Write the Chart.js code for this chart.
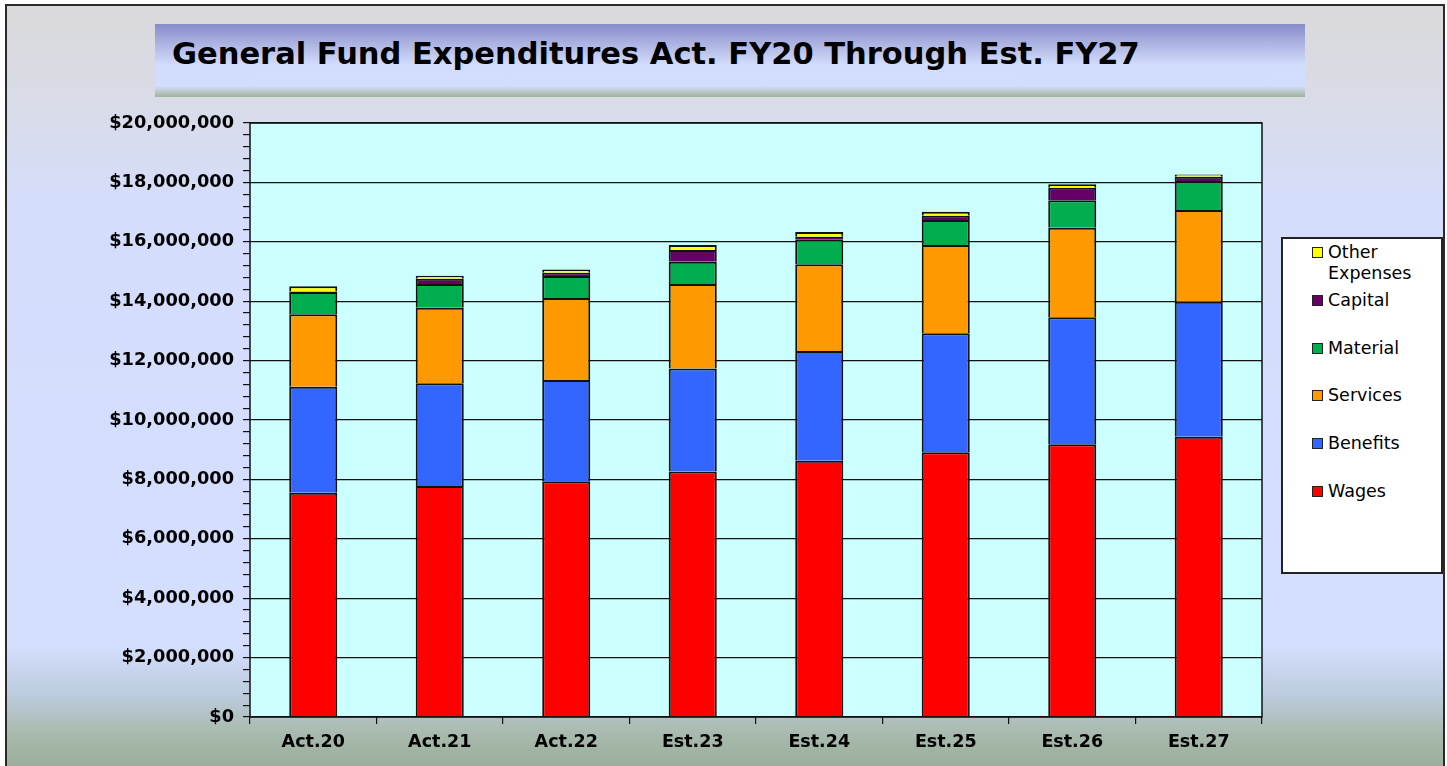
<!DOCTYPE html>
<html>
<head>
<meta charset="utf-8">
<script src="https://cdn.jsdelivr.net/npm/chart.js@4.4.1/dist/chart.umd.min.js"></script>
<style>
    html, body { margin: 0; padding: 0; background: #fff; overflow: hidden; }
    #frame {
        position: absolute; left: 5px; top: 4px; width: 1436px; height: 800px;
        border: 2px solid #2a2a2a;
        background: linear-gradient(to bottom, #dadadb 0px, #d9dbe6 90px, #d4ddfc 200px, #d4defe 640px, #bccbdc 690px, #a7b9ab 730px, #98ad98 766px);
    }
    #title {
        position: absolute; left: 155px; top: 24px; width: 1150px; height: 73px;
        background: linear-gradient(to bottom, #878bc8 0%, #aab1e0 25%, #d1dbfb 55%, #d3ddfd 85%, #b9c7c4 93%, #9fb39f 100%);
        font-family: "DejaVu Sans", Verdana, sans-serif; font-weight: bold; font-size: 30.5px;
        line-height: 59px; padding-left: 17px; box-sizing: border-box; color: #000;
    }
    #chart { position: absolute; left: 0; top: 0; }
    #legend {
        position: absolute; left: 1281px; top: 237px; width: 162px; height: 337px;
        background: #fff; border: 2px solid #222; box-sizing: border-box;
        font-family: "DejaVu Sans", Verdana, sans-serif; font-size: 17.5px; color: #000;
    }
    .item { position: absolute; left: 29px; }
    .sw { position: absolute; left: 0; width: 9px; height: 9px; border: 1.5px solid #222; }
    .lbl { position: absolute; left: 16px; line-height: 21px; white-space: nowrap; }
</style>
</head>
<body>
<div id="frame"></div>
<div id="title">General Fund Expenditures Act. FY20 Through Est. FY27</div>
<canvas id="chart" width="1447" height="766"></canvas>
<div id="legend"></div>
<script>
// ============================================
// Data
// ============================================

const categories = ["Act.20", "Act.21", "Act.22", "Est.23", "Est.24", "Est.25", "Est.26", "Est.27"];

const wages    = [7550000, 7780000, 7940000, 8270000, 8630000, 8910000, 9180000, 9440000];
const benefits = [3570000, 3460000, 3410000, 3460000, 3690000, 4010000, 4280000, 4540000];
const services = [2440000, 2540000, 2760000, 2850000, 2920000, 2970000, 3010000, 3090000];
const material = [750000, 800000, 740000, 750000, 850000, 840000, 930000, 980000];
const capital  = [20000, 180000, 110000, 390000, 80000, 150000, 420000, 140000];
const other    = [170000, 100000, 110000, 170000, 160000, 130000, 120000, 80000];

const seriesNames = ["Wages", "Benefits", "Services", "Material", "Capital", "Other Expenses"];
const seriesColors = ["#ff0000", "#3366ff", "#ff9900", "#00ae50", "#660066", "#ffff00"];

const Y_MAX = 20000000;
const Y_MAJOR = 2000000;
const Y_MINOR = 400000;

// ============================================
// Plugins
// ============================================

const FONT = "'DejaVu Sans', Verdana, sans-serif";

const plotBox = {
    id: "plotBox",
    beforeDraw(chart) {
        const { ctx, chartArea: a } = chart;
        ctx.save();
        ctx.fillStyle = "#ccffff";
        ctx.fillRect(a.left, a.top, a.right - a.left, a.bottom - a.top);
        ctx.restore();
    },
    afterDraw(chart) {
        const { ctx, chartArea: a } = chart;
        ctx.save();
        ctx.strokeStyle = "#111";
        ctx.lineWidth = 1.5;
        ctx.strokeRect(a.left, a.top, a.right - a.left, a.bottom - a.top);
        ctx.restore();
    },
};

// ============================================
// Chart
// ============================================

const allSeries = [wages, benefits, services, material, capital, other];

// only top/left/right borders: the segment below supplies the dividing line
const datasets = allSeries.map((values, i) => ({
    label: seriesNames[i],
    data: values,
    backgroundColor: seriesColors[i],
    borderColor: "#111",
    borderWidth: 2,
    borderSkipped: "bottom",
    barPercentage: 0.38,
    categoryPercentage: 1,
}));

const chart = new Chart(document.getElementById("chart").getContext("2d"), {
    type: "bar",
    data: { labels: categories, datasets: datasets },
    plugins: [plotBox],
    options: {
        responsive: false,
        animation: false,
        layout: { padding: { top: 123, right: 185, left: 0, bottom: 0 } },
        plugins: { legend: { display: false }, tooltip: { enabled: false } },
        scales: {
            x: {
                stacked: true,
                afterFit(scale) { scale.height = 49; },
                border: { display: false },
                grid: { offset: true, drawOnChartArea: false, drawTicks: true, tickLength: 7, color: "#111", lineWidth: 1.2 },
                ticks: {
                    padding: 8,
                    color: "#000",
                    font: { family: FONT, size: 17.5, weight: "bold" },
                },
            },
            y: {
                stacked: true,
                min: 0,
                max: Y_MAX,
                afterFit(scale) { scale.width = 250; },
                border: { display: false },
                grid: {
                    color: (c) => (c.tick && c.tick.value % Y_MAJOR === 0 ? "#111" : "rgba(0,0,0,0)"),
                    tickColor: "#111",
                    lineWidth: 1.2,
                    tickLength: 7,
                },
                ticks: {
                    stepSize: Y_MINOR,
                    autoSkip: false,
                    padding: 9,
                    color: "#000",
                    font: { family: FONT, size: 17.8, weight: "bold" },
                    callback: (v) => (v % Y_MAJOR === 0 ? "$" + v.toLocaleString("en-US") : ""),
                },
            },
        },
    },
});

// ============================================
// Legend (top item = last dataset)
// ============================================

function buildLegend() {
    const box = document.getElementById("legend");
    const rowTop = [4, 52, 100, 147, 195, 243];
    const order = seriesNames.map((_, i) => i).reverse();
    order.forEach((idx, row) => {
        const item = document.createElement("div");
        item.className = "item";
        item.style.top = rowTop[row] + "px";
        const sw = document.createElement("div");
        sw.className = "sw";
        sw.style.top = "4px";
        sw.style.background = seriesColors[idx];
        const lbl = document.createElement("div");
        lbl.className = "lbl";
        lbl.style.top = "-1px";
        lbl.innerHTML = seriesNames[idx].replace(" ", "<br>");
        item.appendChild(sw);
        item.appendChild(lbl);
        box.appendChild(item);
    });
}

buildLegend();
</script>
</body>
</html>
